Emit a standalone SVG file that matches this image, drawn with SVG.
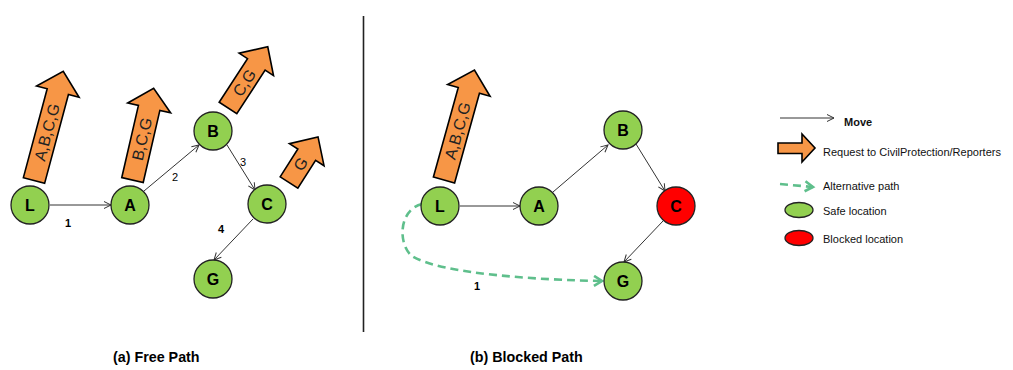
<svg xmlns="http://www.w3.org/2000/svg" width="1013" height="370" viewBox="0 0 1013 370">
<style>
.node{fill:#92d050;stroke:#222;stroke-width:1.3}
.blocked{fill:#ff0000;stroke:#222;stroke-width:1.3}
.nl{font-family:"Liberation Sans",Arial,sans-serif;font-weight:bold;font-size:16px;fill:#000;text-anchor:middle}
.edge{fill:none;stroke:#333;stroke-width:1}
.alt{fill:none;stroke:#5fbf8c;stroke-width:2.6;stroke-dasharray:8 5}
.el{font-family:"Liberation Sans",Arial,sans-serif;font-size:11px;fill:#000;text-anchor:middle}
.req{fill:#f79646;stroke:#000;stroke-width:1.6;stroke-linejoin:miter}
.rt{font-family:"Liberation Sans",Arial,sans-serif;font-size:16px;fill:#222;text-anchor:middle}
.lg{font-family:"Liberation Sans",Arial,sans-serif;font-size:11px;fill:#111}
.cap{font-family:"Liberation Sans",Arial,sans-serif;font-size:14.3px;font-weight:bold;fill:#000}
</style>
<defs>
<marker id="mv" markerWidth="10" markerHeight="10" refX="8" refY="4" orient="auto" markerUnits="userSpaceOnUse">
<path d="M1,0.5 L8,4 L1,7.5" fill="none" stroke="#333" stroke-width="1"/>
</marker>
<marker id="ga" markerWidth="14" markerHeight="14" refX="10" refY="6" orient="auto" markerUnits="userSpaceOnUse">
<path d="M2,1 L10,6 L2,11" fill="none" stroke="#5fbf8c" stroke-width="2.6"/>
</marker>
</defs>
<rect width="1013" height="370" fill="#fff"/>
<line x1="363.5" y1="16" x2="363.5" y2="332" stroke="#222" stroke-width="1.6"/>

<g id="connectors">
<line class="edge" x1="50" y1="205" x2="111" y2="205" marker-end="url(#mv)"/>
<line class="edge" x1="144" y1="191" x2="199" y2="145" marker-end="url(#mv)"/>
<line class="edge" x1="227" y1="145" x2="255" y2="190" marker-end="url(#mv)"/>
<line class="edge" x1="253" y1="219" x2="214" y2="260" marker-end="url(#mv)"/>
<text class="el" x="68" y="227" font-weight="bold">1</text>
<text class="el" x="175" y="181">2</text>
<text class="el" x="243" y="166">3</text>
<text class="el" x="221" y="233" font-weight="bold">4</text>

<line class="edge" x1="460" y1="206" x2="520" y2="206" marker-end="url(#mv)"/>
<line class="edge" x1="553" y1="192" x2="608" y2="145" marker-end="url(#mv)"/>
<line class="edge" x1="636" y1="144" x2="665" y2="191" marker-end="url(#mv)"/>
<line class="edge" x1="663" y1="221" x2="624" y2="262" marker-end="url(#mv)"/>
<path class="alt" d="M422,204 C398,210 398,245 412,256 C440,274 540,280 602,281" marker-end="url(#ga)"/>
<text class="el" x="477" y="290" font-weight="bold">1</text>
</g>

<g id="req-L-a" transform="translate(34,180.5) rotate(15)">
<path class="req" d="M-11,0 L-11,-92 L-22,-92 L0,-113 L22,-92 L11,-92 L11,0 Z"/>
<text class="rt" transform="translate(0,-50) rotate(-90)" dy="5.5">A,B,C,G</text>
</g>
<g id="req-A-a" transform="translate(132.5,180) rotate(13)">
<path class="req" d="M-11,0 L-11,-74 L-22,-74 L0,-94 L22,-74 L11,-74 L11,0 Z"/>
<text class="rt" transform="translate(0,-42) rotate(-90)" dy="5.5">B,C,G</text>
</g>
<g id="req-B-a" transform="translate(228,108) rotate(33)">
<path class="req" d="M-10.5,0 L-10.5,-52 L-20.5,-52 L0,-73 L20.5,-52 L10.5,-52 L10.5,0 Z"/>
<text class="rt" transform="translate(0,-30) rotate(-90)" dy="5.5">C,G</text>
</g>
<g id="req-C-a" transform="translate(289,182.5) rotate(32.5)">
<path class="req" d="M-10.5,0 L-10.5,-33 L-20.5,-33 L0,-54 L20.5,-33 L10.5,-33 L10.5,0 Z"/>
<text class="rt" transform="translate(0,-22) rotate(-90)" dy="5.5">G</text>
</g>
<g id="req-L-b" transform="translate(444,180) rotate(15.5)">
<path class="req" d="M-11,0 L-11,-93 L-22,-93 L0,-114 L22,-93 L11,-93 L11,0 Z"/>
<text class="rt" transform="translate(0,-51) rotate(-90)" dy="5.5">A,B,C,G</text>
</g>

<g id="node-L-a"><circle class="node" cx="30" cy="205" r="19"/><text class="nl" x="30" y="211">L</text></g>
<g id="node-A-a"><circle class="node" cx="130" cy="205" r="19"/><text class="nl" x="130" y="211">A</text></g>
<g id="node-B-a"><circle class="node" cx="213" cy="131" r="19"/><text class="nl" x="213" y="137">B</text></g>
<g id="node-C-a"><circle class="node" cx="267" cy="204" r="19"/><text class="nl" x="267" y="210">C</text></g>
<g id="node-G-a"><circle class="node" cx="213" cy="279" r="19"/><text class="nl" x="213" y="285">G</text></g>

<g id="node-L-b"><circle class="node" cx="440" cy="206" r="19"/><text class="nl" x="440" y="212">L</text></g>
<g id="node-A-b"><circle class="node" cx="539" cy="206" r="19"/><text class="nl" x="539" y="212">A</text></g>
<g id="node-B-b"><circle class="node" cx="623" cy="130" r="19"/><text class="nl" x="623" y="136">B</text></g>
<g id="node-C-b"><circle class="blocked" cx="676" cy="206" r="19"/><text class="nl" x="676" y="212">C</text></g>
<g id="node-G-b"><circle class="node" cx="623" cy="281" r="19"/><text class="nl" x="623" y="287">G</text></g>

<g id="legend">
<line class="edge" x1="780" y1="118" x2="834" y2="118" marker-end="url(#mv)"/>
<text class="lg" x="844" y="126" font-weight="bold">Move</text>
<path class="req" d="M778,143 L802,143 L802,134 L815,148 L802,162 L802,153.5 L778,153.5 Z"/>
<text class="lg" x="823" y="156">Request to CivilProtection/Reporters</text>
<path class="alt" d="M780,184 L813,187" marker-end="url(#ga)"/>
<text class="lg" x="823" y="190">Alternative path</text>
<ellipse class="node" cx="799" cy="210" rx="14" ry="7.5"/>
<text class="lg" x="823" y="215">Safe location</text>
<ellipse class="blocked" cx="799" cy="238" rx="14" ry="7.5"/>
<text class="lg" x="823" y="243">Blocked location</text>
</g>

<text class="cap" x="113" y="362">(a) Free Path</text>
<text class="cap" x="470" y="362">(b) Blocked Path</text>
</svg>
